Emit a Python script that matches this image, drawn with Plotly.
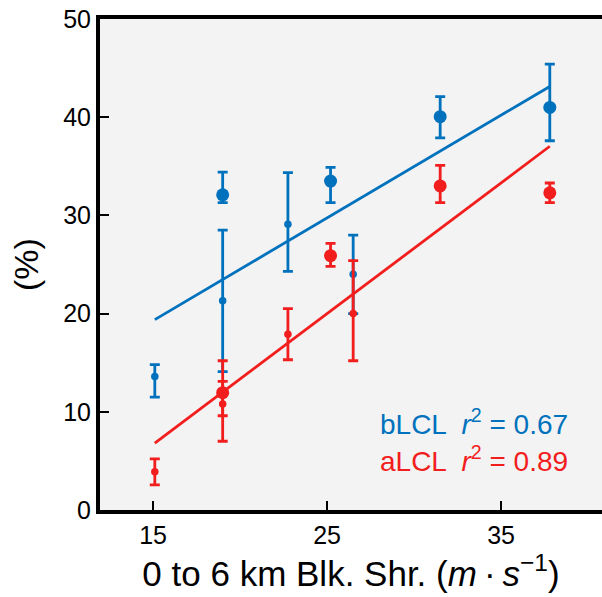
import numpy as np
import plotly.graph_objects as go

# 0-6 km bulk shear (m/s) for the two groups of cases
shear_large = [19.0, 25.2, 31.5, 37.8]
shear_small = [15.1, 19.0, 22.75, 26.5]

# bLCL percentages with upper / lower bounds
blcl_large = [32.1, 33.5, 40.05, 41.0]
blcl_large_hi = [34.4, 34.9, 42.1, 45.4]
blcl_large_lo = [31.3, 31.3, 37.9, 37.6]
blcl_small = [13.6, 21.3, 29.1, 24.0]
blcl_small_hi = [14.8, 28.5, 34.35, 28.0]
blcl_small_lo = [11.5, 14.1, 24.3, 20.0]

# aLCL percentages with upper / lower bounds
alcl_large = [11.95, 25.9, 33.0, 32.3]
alcl_large_hi = [13.1, 27.15, 35.1, 33.3]
alcl_large_lo = [9.6, 24.8, 31.3, 31.3]
alcl_small = [3.9, 10.8, 17.9, 20.0]
alcl_small_hi = [5.2, 15.2, 20.5, 25.4]
alcl_small_lo = [2.55, 7.0, 15.3, 15.2]

r2_labels = {"bLCL": "0.67", "aLCL": "0.89"}
x_ticks = [15, 25, 35]
y_ticks = [0, 10, 20, 30, 40, 50]

BLUE = "#0072BD"
RED = "#F21D1D"
FONT = "Liberation Sans, Arial, sans-serif"

fig = go.Figure()


def add_points(x, y, hi, lo, color, size):
    fig.add_trace(go.Scatter(
        x=x, y=y, mode="markers",
        marker=dict(color=color, size=size, line=dict(width=0)),
        error_y=dict(type="data", symmetric=False,
                     array=[h - v for h, v in zip(hi, y)],
                     arrayminus=[v - l for l, v in zip(lo, y)],
                     color=color, thickness=2.8, width=5),
        showlegend=False, hoverinfo="x+y",
    ))


def add_fit(xs, ys, color):
    xs = np.array(xs, dtype=float)
    ys = np.array(ys, dtype=float)
    slope, icpt = np.polyfit(xs, ys, 1)
    xl = np.array([xs.min(), xs.max()])
    fig.add_trace(go.Scatter(
        x=xl, y=slope * xl + icpt, mode="lines",
        line=dict(color=color, width=2.8),
        showlegend=False, hoverinfo="skip",
    ))


# bLCL series
add_points(shear_small, blcl_small, blcl_small_hi, blcl_small_lo, BLUE, 7.5)
add_points(shear_large, blcl_large, blcl_large_hi, blcl_large_lo, BLUE, 13)
add_fit(shear_large + shear_small, blcl_large + blcl_small, BLUE)

# aLCL series
add_points(shear_small, alcl_small, alcl_small_hi, alcl_small_lo, RED, 7.5)
add_points(shear_large, alcl_large, alcl_large_hi, alcl_large_lo, RED, 13)
add_fit(shear_large + shear_small, alcl_large + alcl_small, RED)

for name, yv, color in [("bLCL", 9.0, BLUE), ("aLCL", 5.2, RED)]:
    fig.add_annotation(
        x=27.95, y=yv, xref="x", yref="y", xanchor="left", yanchor="middle",
        text=f"{name}  <i>r</i><sup>2</sup> = {r2_labels[name]}",
        showarrow=False, font=dict(family=FONT, size=28, color=color),
    )

fig.update_layout(
    width=602, height=597,
    margin=dict(l=100, r=0, t=19, b=87),
    paper_bgcolor="white", plot_bgcolor="#F3F3F3",
    font=dict(family=FONT, color="black"),
)
fig.update_xaxes(
    range=[11.95, 40.8], tickvals=x_ticks, ticktext=[str(v) for v in x_ticks],
    ticks="inside", ticklen=9, tickwidth=1.5, tickcolor="black",
    showline=True, linewidth=4, linecolor="black", mirror=True,
    showgrid=False, zeroline=False,
    tickfont=dict(family=FONT, size=25, color="black"),
    title=dict(text="0 to 6 km Blk. Shr. (<i>m</i>\u2009·\u2009<i>s</i><sup>−1</sup>)",
               font=dict(family=FONT, size=35, color="black"), standoff=7),
)
fig.update_yaxes(
    range=[0, 50], tickvals=y_ticks, ticktext=[str(v) for v in y_ticks],
    ticks="inside", ticklen=9, tickwidth=1.5, tickcolor="black",
    showline=True, linewidth=4, linecolor="black", mirror=False,
    showgrid=False, zeroline=False,
    tickfont=dict(family=FONT, size=25, color="black"),
    title=dict(text="(%)", font=dict(family=FONT, size=34, color="black"),
               standoff=15),
)

fig.write_html("out.html")
